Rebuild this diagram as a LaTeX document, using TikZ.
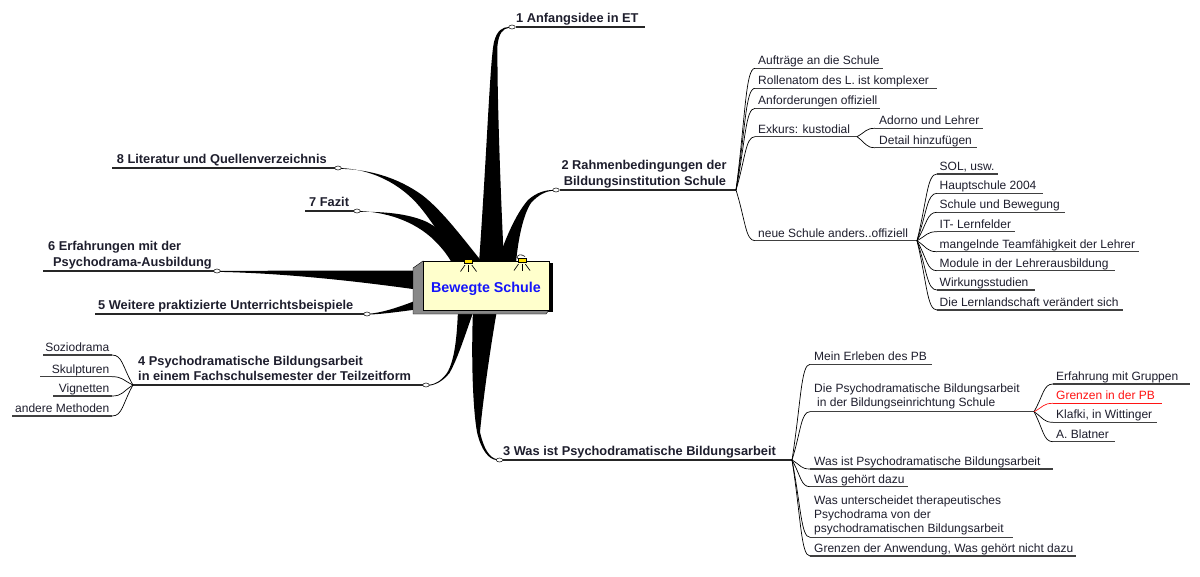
\documentclass[tikz,border=0pt]{standalone}
\usepackage{fontspec}
\setmainfont{Liberation Sans}
\usetikzlibrary{calc,shapes.geometric}
\definecolor{txt}{RGB}{30,30,45}
\definecolor{nodefill}{RGB}{255,255,204}
\definecolor{sidegray}{RGB}{136,136,136}
\definecolor{lampy}{RGB}{255,225,0}
\definecolor{bluet}{RGB}{20,20,250}
\definecolor{redt}{RGB}{255,20,20}
\tikzset{
  mainlbl/.style={font=\fontsize{12.8}{15}\selectfont\bfseries, text=txt, inner sep=0pt, anchor=base west},
  sublbl/.style={font=\fontsize{12}{14}\selectfont, text=txt, inner sep=0pt, anchor=base west},
  knob/.style={ellipse, draw=black, fill=white, line width=0.5pt, minimum width=6.5pt, minimum height=4pt, inner sep=0pt},
  mainline/.style={draw=black!85, line width=1.1pt},
  uline/.style={draw=black!75, line width=1.1pt},
  twig/.style={draw=black, line width=0.7pt},
  wedge/.style={fill=black},
  fan/.style={to path={let \p1=(\tikztostart), \p2=(\tikztotarget) in .. controls ({0.5*\x1+0.5*\x2},{0.4*\y1+0.6*\y2}) and ({0.5*\x1+0.5*\x2},{\y2}) .. (\tikztotarget)}},
  centerbox/.style={draw=black, line width=0.6pt, fill=nodefill, minimum width=126pt, minimum height=49pt, inner sep=0pt, font=\fontsize{14.3}{16}\selectfont\bfseries, text=bluet, text height=14.2pt, text depth=0pt},
  lampray/.style={draw=black, line width=0.7pt}
}
\begin{document}
\begin{tikzpicture}[x=1pt,y=-1pt]
\useasboundingbox (0,0) rectangle (1200,576);
\fill[white] (0,0) rectangle (1200,576);

% ---------- tapered main branches ----------
% 1
\fill[wedge] (479,263) .. controls (487,150) and (490,60) .. (494,42) .. controls (497,30) and (503,27) .. (509,27) -- (509,27.8) .. controls (503,28.5) and (499,33) .. (497.5,45) .. controls (497,90) and (500,180) .. (504,263) -- cycle;
% 2
\fill[wedge] (497,263) .. controls (505,240) and (515,215) .. (528,200) .. controls (537,192) and (546,190) .. (553,190) -- (553,190.8) .. controls (546,191) and (538,195) .. (531,203) .. controls (523,215) and (518,240) .. (516,263) -- cycle;
% 7
\fill[wedge] (355,211) .. controls (385,211) and (415,221) .. (435,241) .. controls (443,249) and (448,256) .. (452,263) -- (475,263) .. controls (462,248) and (447,233) .. (427,222) .. controls (407,213) and (382,211.5) .. (355,211.8) -- cycle;
% 8
\fill[wedge] (336,168) .. controls (370,168) and (400,183) .. (420,207) .. controls (434,224) and (447,246) .. (458,263) -- (483,263) .. controls (464,240) and (443,211) .. (422,195) .. controls (397,177) and (367,168.5) .. (336,168.8) -- cycle;
% 6
\fill[wedge] (215,271) .. controls (300,270.5) and (380,270.5) .. (420,270.5) -- (420,290) .. controls (370,283) and (290,273) .. (215,271.8) -- cycle;
% 5
\fill[wedge] (365,314) .. controls (380,313.5) and (397,308) .. (420,299) -- (420,309) .. controls (397,312) and (380,314.5) .. (365,314.6) -- cycle;
% 4
\fill[wedge] (458,310) .. controls (457,335) and (455,360) .. (447,373) .. controls (441,381) and (435,384.5) .. (428,385) -- (428,385.8) .. controls (436,385) and (443,381) .. (449.5,373) .. controls (458,358) and (465,335) .. (474,310) -- cycle;
% 3
\fill[wedge] (473,310) .. controls (471,360) and (473,410) .. (477,432) .. controls (481,450) and (489,460) .. (497,460) -- (497,459.2) .. controls (490,458) and (484,450) .. (480,432) .. controls (483,400) and (490,350) .. (497,310) -- cycle;

% ---------- central node ----------
\fill[black] (547,263) rectangle (552.5,312);
\filldraw[fill=sidegray, draw=black, line width=0.4pt] (423,261) -- (413,268) -- (413,314) -- (546,314) -- (549,310) -- cycle;
\node[centerbox] (center) at (486,285.5) {Bewegte Schule};
% lamps
\foreach \lx/\ly in {468.5/261.3, 522/260.3}{
  \draw[lampray] (\lx-3.5,\ly+3.7) -- (\lx-8,\ly+10.2);
  \draw[lampray] (\lx,\ly+3.7) -- (\lx,\ly+10.2);
  \draw[lampray] (\lx+3.3,\ly+3.7) -- (\lx+8,\ly+10.2);
  \filldraw[fill=lampy, draw=black, line width=0.5pt] (\lx-4.2,\ly-2) rectangle (\lx+4.2,\ly+2);
}
\draw[line width=0.6pt] (517.5,258.5) .. controls (516.5,254.5) and (521,253.5) .. (525,256.5);

% ---------- main labels ----------
\node[mainlbl] (b1) at (516,22.5) {1 Anfangsidee in ET};
\node[mainlbl, anchor=base] (b2a) at (644,169) {2 Rahmenbedingungen der};
\node[mainlbl, anchor=base] (b2b) at (645,185.7) {Bildungsinstitution Schule};
\node[mainlbl] (b3) at (503,455.5) {3 Was ist Psychodramatische Bildungsarbeit};
\node[mainlbl] (b4a) at (138,365) {4 Psychodramatische Bildungsarbeit};
\node[mainlbl] (b4b) at (138,380) {in einem Fachschulsemester der Teilzeitform};
\node[mainlbl] (b5) at (98,309) {5 Weitere praktizierte Unterrichtsbeispiele};
\node[mainlbl] (b6a) at (48,250.7) {6 Erfahrungen mit der};
\node[mainlbl] (b6b) at (53,266.7) {Psychodrama-Ausbildung};
\node[mainlbl] (b7) at (309,206.7) {7 Fazit};
\node[mainlbl] (b8) at (116.7,163) {8 Literatur und Quellenverzeichnis};

\coordinate (e1) at (645,27);
\coordinate (h2) at (736,190);
\coordinate (h3) at (792,460);
\coordinate (h4) at (133,385);
\coordinate (e5) at (95,314);
\coordinate (e6) at (43,271);
\coordinate (e7) at (305,211);
\coordinate (e8) at (111.7,168);

\node[knob] (c1) at (512,27) {};
\node[knob] (c2) at (556,190) {};
\node[knob] (c3) at (499.5,460) {};
\node[knob] (c4) at (426,385) {};
\node[knob] (c5) at (367,314) {};
\node[knob] (c6) at (217,271) {};
\node[knob] (c7) at (357,211) {};
\node[knob] (c8) at (338,168) {};

\draw[mainline] (c1.east) -- (e1);
\draw[mainline] (c2.east) -- (h2);
\draw[mainline] (c3.east) -- (h3);
\draw[mainline] (c4.west) -- (h4);
\draw[mainline] (c5.west) -- (e5);
\draw[mainline] (c6.west) -- (e6);
\draw[mainline] (c7.west) -- (e7);
\draw[mainline] (c8.west) -- (e8);

% ---------- branch 2 sub-items ----------
\foreach \un/\uy/\ue/\ut in {a/68.3/883/{Aufträge an die Schule}, b/88.3/937/{Rollenatom des L. ist komplexer}, c/108.3/880/{Anforderungen offiziell}, d/136.7/857/{Exkurs: kustodial}, e/240.7/917/{neue Schule anders..offiziell}}{
  \coordinate (r2\un-s) at (755,\uy);
  \coordinate (r2\un-e) at (\ue,\uy);
  \draw[twig] (h2) to[fan] (r2\un-s);
  \draw[uline] (r2\un-s) -- (r2\un-e);
  \node[sublbl] (r2\un-t) at (758,\uy-3.7) {\ut};
}
\foreach \un/\uy/\ue/\ut in {a/128.3/983/{Adorno und Lehrer}, b/147.7/977/{Detail hinzufügen}}{
  \coordinate (x2\un-s) at (875,\uy);
  \coordinate (x2\un-e) at (\ue,\uy);
  \draw[twig] (r2d-e) to[fan] (x2\un-s);
  \draw[uline] (x2\un-s) -- (x2\un-e);
  \node[sublbl] (x2\un-t) at (879,\uy-3.7) {\ut};
}
\foreach \un/\uy/\ue/\ut in {a/174/998/{SOL, usw.}, b/193.3/1043/{Hauptschule 2004}, c/212.3/1065/{Schule und Bewegung}, d/231.7/1015/{IT- Lernfelder}, e/251.7/1139/{mangelnde Teamfähigkeit der Lehrer}, f/270.7/1115/{Module in der Lehrerausbildung}, g/290/1035/{Wirkungsstudien}, h/310/1123/{Die Lernlandschaft verändert sich}}{
  \coordinate (n2\un-s) at (937,\uy);
  \coordinate (n2\un-e) at (\ue,\uy);
  \draw[twig] (r2e-e) to[fan] (n2\un-s);
  \draw[uline] (n2\un-s) -- (n2\un-e);
  \node[sublbl] (n2\un-t) at (939.5,\uy-3.7) {\ut};
}

% ---------- branch 3 sub-items ----------
\foreach \un/\uy/\ue/\ut in {a/364.3/932/{Mein Erleben des PB}, c/469/1053/{Was ist Psychodramatische Bildungsarbeit}, d/486.7/908/{Was gehört dazu}, f/556/1076/{Grenzen der Anwendung, Was gehört nicht dazu}}{
  \coordinate (r3\un-s) at (810,\uy);
  \coordinate (r3\un-e) at (\ue,\uy);
  \draw[twig] (h3) to[fan] (r3\un-s);
  \draw[uline] (r3\un-s) -- (r3\un-e);
  \node[sublbl] (r3\un-t) at (814,\uy-3.7) {\ut};
}
\coordinate (r3b-s) at (810,411.7);
\coordinate (r3b-e) at (1034,411.7);
\draw[twig] (h3) to[fan] (r3b-s);
\draw[uline] (r3b-s) -- (r3b-e);
\node[sublbl] (r3b-t1) at (814,392.7) {Die Psychodramatische Bildungsarbeit};
\node[sublbl] (r3b-t2) at (817,406.7) {in der Bildungseinrichtung Schule};
\coordinate (r3e-s) at (810,537.3);
\coordinate (r3e-e) at (1013,537.3);
\draw[twig] (h3) to[fan] (r3e-s);
\draw[uline] (r3e-s) -- (r3e-e);
\node[sublbl] (r3e-t1) at (814,504) {Was unterscheidet therapeutisches};
\node[sublbl] (r3e-t2) at (814,518) {Psychodrama von der};
\node[sublbl] (r3e-t3) at (814,532.7) {psychodramatischen Bildungsarbeit};

\foreach \un/\uy/\ue/\ut in {a/384/1190/{Erfahrung mit Gruppen}, c/422.3/1157/{Klafki, in Wittinger}, d/441.7/1115/{A. Blatner}}{
  \coordinate (p3\un-s) at (1053,\uy);
  \coordinate (p3\un-e) at (\ue,\uy);
  \draw[twig] (r3b-e) to[fan] (p3\un-s);
  \draw[uline] (p3\un-s) -- (p3\un-e);
  \node[sublbl] (p3\un-t) at (1056,\uy-3.7) {\ut};
}
\coordinate (p3b-s) at (1053,403.3);
\coordinate (p3b-e) at (1162,403.3);
\draw[twig, draw=redt] (r3b-e) to[fan] (p3b-s);
\draw[uline, draw=redt] (p3b-s) -- (p3b-e);
\node[sublbl, text=redt] (p3b-t) at (1056,399.6) {Grenzen in der PB};

% ---------- branch 4 sub-items ----------
\foreach \un/\uy/\ue/\ut in {a/355/43/{Soziodrama}, b/376.7/40/{Skulpturen}, c/396/53/{Vignetten}, d/416/12/{andere Methoden}}{
  \coordinate (l4\un-s) at (112,\uy);
  \coordinate (l4\un-e) at (\ue,\uy);
  \draw[twig] (h4) to[fan] (l4\un-s);
  \draw[uline] (l4\un-s) -- (l4\un-e);
  \node[sublbl, anchor=base east] (l4\un-t) at (109.5,\uy-3.7) {\ut};
}
\end{tikzpicture}
\end{document}
